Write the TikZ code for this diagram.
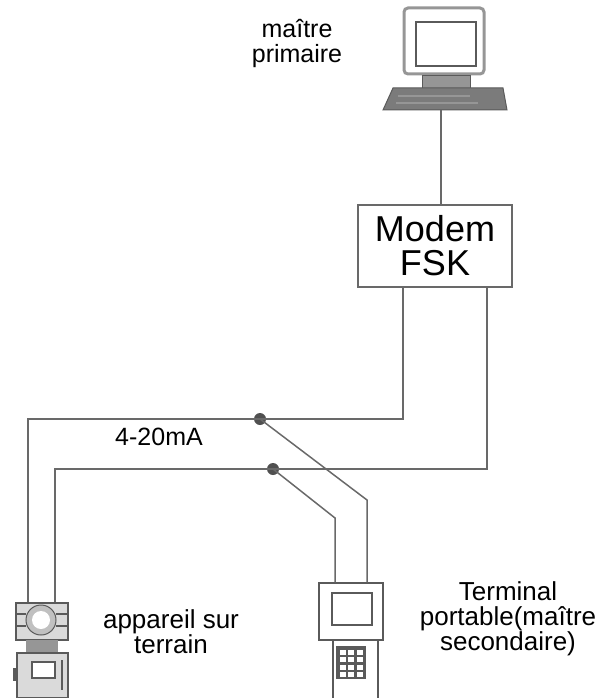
\documentclass[tikz,border=0pt]{standalone}
\usepackage{fontspec}
\setmainfont{Liberation Sans}
\usetikzlibrary{positioning,calc}

\definecolor{wiregray}{RGB}{105,105,105}
\definecolor{dotgray}{RGB}{80,80,80}
\definecolor{bodygray}{RGB}{150,150,150}
\definecolor{darkgray}{RGB}{90,90,90}

\tikzset{
    wire/.style={draw=wiregray, line width=1.5pt},
    junction/.style={circle, fill=dotgray, inner sep=0pt, minimum size=12pt},
    txt/.style={font=\fontsize{26}{25}\selectfont, align=center, inner sep=0pt, anchor=base},
    part/.style={draw=darkgray, line width=1.2pt, inner sep=0pt},
}

\begin{document}
\begin{tikzpicture}[x=1pt, y=-1pt]
    \useasboundingbox (0,0) rectangle (597,698);

    % computer (primary master)
    \node[part, line width=3pt, draw=bodygray, rounded corners=4pt,
        minimum width=80pt, minimum height=66pt] (pc) at (444,41) {};
    \node[part, fill=white, minimum width=60pt, minimum height=44pt] (screen) at (446,44) {};
    \fill[bodygray, draw=darkgray] (422,75) rectangle (470,88);
    \filldraw[fill=darkgray!80, draw=darkgray, line width=1pt]
        (393,88) -- (503,88) -- (507,110) -- (383,110) -- cycle;
    \draw[bodygray, line width=1.5pt] (398,96) -- (470,96) (396,103) -- (478,103);
    \coordinate (kbd) at (441,110);
    \node[txt, font=\fontsize{25}{25}\selectfont] (master) at (297,63) {maître\\primaire};

    % modem
    \node[draw=wiregray, line width=1.3pt, minimum width=154pt, minimum height=82pt,
        font=\fontsize{36}{34}\selectfont, align=center] (modem) at (435,246) {Modem\\FSK};
    \draw[wire] (kbd) -- (modem.north -| kbd);

    % loop wires
    \coordinate (a1) at (403,419);
    \coordinate (a2) at (28,419);
    \coordinate (b1) at (487,469);
    \coordinate (b2) at (55,469);
    \node[junction] (j1) at (260,419) {};
    \node[junction] (j2) at (273,469) {};
    \node[txt, font=\fontsize{25}{25}\selectfont] (current) at (159,445) {4-20mA};

    % field device
    \node[part, fill=bodygray!35, minimum width=52pt, minimum height=37pt] (dev) at (42,621.5) {};
    \filldraw[draw=darkgray, fill=bodygray!60, line width=1pt] (41,620) circle (15pt);
    \fill[white] (41,620) circle (9pt);
    \draw[darkgray, line width=1.2pt] (16,614) -- (26,614) (16,626) -- (26,626)
        (56,614) -- (67,614) (56,626) -- (67,626);
    \fill[bodygray] (26,640) rectangle (58,653);
    \node[part, fill=bodygray!35, minimum width=51pt, minimum height=45pt] (devbody) at (42.5,675.5) {};
    \node[part, fill=white, minimum width=23pt, minimum height=16pt] at (43.5,670) {};
    \fill[darkgray] (13,668) rectangle (17,681);
    \draw[darkgray, line width=2pt] (62,660) -- (62,690);
    \draw[wire] (modem.south -| a1) -- (a1) -- (a2) -- (a2 |- dev.north);
    \draw[wire] (modem.south -| b1) -- (b1) -- (b2) -- (b2 |- dev.north);
    \node[txt] (field) at (171,653) {appareil sur\\terrain};

    % hand-held terminal (secondary master)
    \node[part, minimum width=64pt, minimum height=57pt] (term) at (351,611.5) {};
    \node[part, minimum width=40pt, minimum height=32pt] (display) at (352,609) {};
    \draw[darkgray, line width=1.2pt] (333,640) -- (333,700) (378,640) -- (378,700);
    \node[part, fill=darkgray, minimum width=28pt, minimum height=31pt] (keys) at (351,662.5) {};
    \foreach \i in {0,1,2} \foreach \j in {0,...,3}
        \fill[white] (339.5+\i*8.5,649.5+\j*7.5) rectangle +(6,5);
    \coordinate (t1) at (367,500);
    \coordinate (t2) at (335,518);
    \draw[wire] (j1.center) -- (t1) -- (t1 |- term.north);
    \draw[wire] (j2.center) -- (t2) -- (t2 |- term.north);
    \node[txt] (handheld) at (508,650) {Terminal\\portable(maître\\secondaire)};
\end{tikzpicture}
\end{document}
